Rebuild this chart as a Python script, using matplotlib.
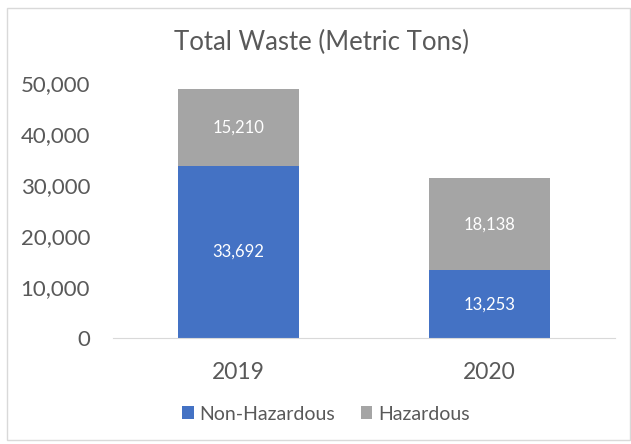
import matplotlib
matplotlib.use("Agg")
import matplotlib.pyplot as plt
from matplotlib.patches import Rectangle

years = ["2019", "2020"]
non_hazardous = [33692, 13253]
hazardous = [15210, 18138]
series_names = ["Non-Hazardous", "Hazardous"]
title = "Total Waste (Metric Tons)"

plt.rcParams['font.family'] = ['Lato', 'DejaVu Sans']
txt = '#595959'
blue = '#4472C4'
gray = '#A5A5A5'

fig = plt.figure(figsize=(6.31, 4.44), dpi=100)
fig.patches.append(Rectangle((7/631, 4/444), 623/631, 432/444, transform=fig.transFigure,
                             fill=False, edgecolor='#D9D9D9', linewidth=1))
ax = fig.add_axes([113/631, 106/444, 502/631, 255/444])
x = range(len(years))
w = 0.486
b1 = ax.bar(x, non_hazardous, width=w, color=blue, label=series_names[0])
b2 = ax.bar(x, hazardous, width=w, bottom=non_hazardous, color=gray, label=series_names[1])
for rects, vals, bots in [(b1, non_hazardous, [0, 0]), (b2, hazardous, non_hazardous)]:
    for r, v, bt in zip(rects, vals, bots):
        ax.text(r.get_x() + r.get_width()/2, bt + v/2, f"{v:,}", ha='center', va='center',
                color='white', fontsize=12)
ax.set_xlim(-0.5, 1.5)
ax.set_ylim(0, 50000)
ax.set_yticks(range(0, 50001, 10000))
ax.set_yticklabels([f"{v:,}" for v in range(0, 50001, 10000)])
ax.set_xticks(list(x))
ax.set_xticklabels(years)
for s in ['top', 'right', 'left']:
    ax.spines[s].set_visible(False)
ax.spines['bottom'].set_color('#D9D9D9')
ax.tick_params(axis='y', length=0, labelsize=16, labelcolor=txt, pad=16.5)
ax.tick_params(axis='x', length=0, labelsize=16.5, labelcolor=txt, pad=17)
fig.text(322/631, 1 - 42/444, title, ha='center', va='center', fontsize=18.5, color=txt)
fig.legend(handles=[b1, b2], loc='center', bbox_to_anchor=(326/631, 1 - 414/444), ncol=2,
           frameon=False, fontsize=14, labelcolor=txt, handlelength=0.6, handleheight=0.6,
           handletextpad=0.3, columnspacing=1.3)
fig.savefig("out.png", dpi=100)
